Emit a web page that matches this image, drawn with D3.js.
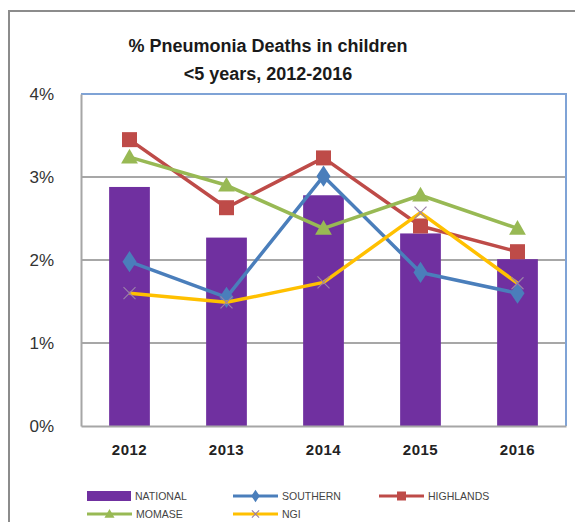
<!DOCTYPE html>
<html><head><meta charset="utf-8">
<script src="https://cdn.jsdelivr.net/npm/d3@7"></script>
<style>body{margin:0;background:#fff;} svg{display:block;font-family:"Liberation Sans",Arial,sans-serif;}</style>
</head><body>
<svg id="c" width="575" height="522"></svg>
<script>
const years = ["2012","2013","2014","2015","2016"];
const national = [2.88, 2.27, 2.78, 2.32, 2.01];
const southern = [1.98, 1.55, 3.01, 1.85, 1.60];
const highlands = [3.45, 2.63, 3.23, 2.41, 2.10];
const momase = [3.24, 2.90, 2.38, 2.78, 2.38];
const ngi = [1.60, 1.49, 1.73, 2.57, 1.72];
const yTicks = [0, 1, 2, 3, 4];
const titleLines = ["% Pneumonia Deaths in children", "<5 years, 2012-2016"];

const lineSeries = [
  {name:"SOUTHERN", values:southern, color:"#4A7EBB", marker:"diamond"},
  {name:"HIGHLANDS", values:highlands, color:"#BE4B48", marker:"square"},
  {name:"MOMASE", values:momase, color:"#98B954", marker:"triangle"},
  {name:"NGI", values:ngi, color:"#FFC000", marker:"x"}
];

const svg = d3.select("#c");
const L = 81, R = 566, T = 94, B = 426;

// outer border
svg.append("rect").attr("x",9).attr("y",11).attr("width",620).attr("height",560)
  .attr("fill","none").attr("stroke","#8c8c8c").attr("stroke-width",2);

const x = d3.scaleBand().domain(years).range([L,R]).paddingInner(0.58).paddingOuter(0.29);
const y = d3.scaleLinear().domain([0,4]).range([B,T]);
const xc = d => x(d) + x.bandwidth()/2;

// title
svg.append("g").selectAll("text").data(titleLines).join("text")
  .attr("x",268).attr("y",(d,i)=>52+i*28).attr("text-anchor","middle")
  .attr("font-size",18).attr("font-weight","bold").attr("fill","#1a1a1a").text(d=>d);

// gridlines
svg.append("g").selectAll("line").data(yTicks.filter(t=>t>0 && t<4)).join("line")
  .attr("x1",L).attr("x2",R).attr("y1",d=>y(d)).attr("y2",d=>y(d))
  .attr("stroke","#8a8a8a").attr("stroke-width",1.5);

// plot border (blue top/right)
svg.append("path").attr("d",`M${L},${T}H${R}V${B}`).attr("fill","none")
  .attr("stroke","#7fa3d6").attr("stroke-width",2);

// y axis
const yAxis = d3.axisLeft(y).tickValues(yTicks).tickFormat(d=>d+"%").tickSize(0).tickPadding(27);
const ya = svg.append("g").attr("transform",`translate(${L},0)`).call(yAxis);
ya.select(".domain").attr("stroke","#a6a6a6").attr("stroke-width",2);
ya.selectAll("text").attr("font-size",17).attr("fill","#333").attr("font-family","Liberation Sans, Arial");

// bars
svg.append("g").selectAll("rect").data(national).join("rect")
  .attr("x",(d,i)=>x(years[i])).attr("width",x.bandwidth())
  .attr("y",d=>y(d)).attr("height",d=>B-y(d)).attr("fill","#7030A0");

// x axis
const xAxis = d3.axisBottom(x).tickSize(0).tickPadding(18);
const xa = svg.append("g").attr("transform",`translate(0,${B})`).call(xAxis);
xa.select(".domain").attr("stroke","#a6a6a6").attr("stroke-width",2);
xa.selectAll("text").attr("font-size",15).attr("font-weight","bold").attr("fill","#222").attr("font-family","Liberation Sans, Arial").attr("letter-spacing","0.5px");

function drawMarker(g, type, color, size){
  if(type==="diamond"){
    g.append("path").attr("d",d3.symbol(d3.symbolDiamond, size*size*0.9)()).attr("fill",color).attr("transform","scale(1.15,1)");
  } else if(type==="square"){
    g.append("rect").attr("x",-size/2).attr("y",-size/2).attr("width",size).attr("height",size).attr("fill",color);
  } else if(type==="triangle"){
    g.append("path").attr("d",`M0,${-size*0.6}L${size*0.6},${size*0.45}L${-size*0.6},${size*0.45}Z`).attr("fill",color);
  } else if(type==="x"){
    const s = size*0.5;
    g.append("path").attr("d",`M${-s},${-s}L${s},${s}M${-s},${s}L${s},${-s}`).attr("stroke","#9a7fa8").attr("stroke-width",1.2).attr("fill","none");
  }
}
const markerSize = {diamond:12, square:15, triangle:14, x:12};

const line = d3.line().x((d,i)=>xc(years[i])).y(d=>y(d));
lineSeries.forEach(s=>{
  const g = svg.append("g");
  g.append("path").datum(s.values).attr("d",line).attr("fill","none")
    .attr("stroke",s.color).attr("stroke-width",3.5).attr("stroke-linejoin","round");
  s.values.forEach((v,i)=>{
    const m = g.append("g").attr("transform",`translate(${xc(years[i])},${y(v)})`);
    drawMarker(m, s.marker, s.color, markerSize[s.marker]);
  });
});

// legend
const legendItems = [
  {name:"NATIONAL", type:"bar", color:"#7030A0"},
  ...lineSeries.map(s=>({name:s.name, type:s.marker, color:s.color}))
];
const lg = svg.append("g");
legendItems.forEach((it,i)=>{
  const col = i%3, row = Math.floor(i/3);
  const lx = 87 + col*146, ly = 496 + row*18;
  const g = lg.append("g").attr("transform",`translate(${lx},${ly})`);
  if(it.type==="bar"){
    g.append("rect").attr("x",0).attr("y",-5).attr("width",44).attr("height",10).attr("fill",it.color);
  } else {
    g.append("line").attr("x1",0).attr("x2",45).attr("y1",0).attr("y2",0).attr("stroke",it.color).attr("stroke-width",3);
    const m = g.append("g").attr("transform","translate(22.5,0)");
    drawMarker(m, it.type, it.color, markerSize[it.type]*0.6);
  }
  g.append("text").attr("x",it.type==="bar"?48:49).attr("y",4).attr("font-size",10.5)
    .attr("fill","#444").text(it.name);
});
</script>
</body></html>
